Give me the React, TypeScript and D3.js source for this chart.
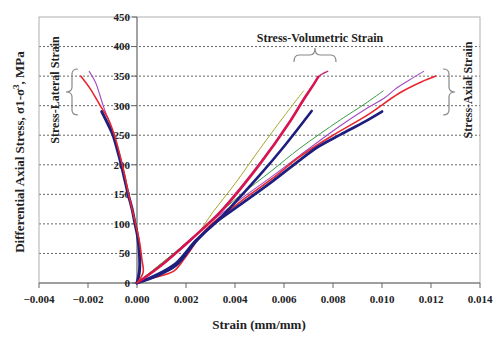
import React, { useEffect } from "react";
import * as d3 from "d3";

type Pt = [number, number];

// ---- data: [strain (mm/mm), differential stress (MPa)] ----
const xTicks = [-0.004, -0.002, 0, 0.002, 0.004, 0.006, 0.008, 0.01, 0.012, 0.014];
const yTicks = [0, 50, 100, 150, 200, 250, 300, 350, 400, 450];

// Stress - axial strain
const navyAxial: Pt[] = [[0, 0], [0.0008, 12], [0.0016, 30], [0.0024, 70], [0.0032, 102], [0.0042, 132], [0.0055, 171], [0.00665, 208], [0.0073, 228], [0.0083, 251], [0.0093, 273], [0.01, 290]];
const greenAxial: Pt[] = [[0, 0], [0.0012, 40], [0.0024, 82], [0.0032, 112], [0.0042, 148], [0.0055, 190], [0.00665, 228], [0.0083, 276], [0.0093, 303], [0.01005, 325]];
const purpleAxial: Pt[] = [[0, 0], [0.001, 30], [0.002, 64], [0.0028, 96], [0.0042, 141], [0.0055, 180], [0.00665, 216], [0.0083, 266], [0.0094, 296], [0.0101, 313], [0.0106, 330], [0.0111, 343], [0.0117, 358]];
const redAxial: Pt[] = [[0, 0], [0.0006, 8], [0.0015, 20], [0.002, 45], [0.0028, 90], [0.0042, 137], [0.0055, 176], [0.00665, 214], [0.008, 250], [0.0094, 284], [0.0107, 321], [0.0116, 340], [0.0122, 350]];

// Stress - volumetric strain
const oliveVolumetric: Pt[] = [[0, 0], [0.0012, 40], [0.0024, 80], [0.0031, 120], [0.004, 168], [0.005, 226], [0.006, 282], [0.0068, 325]];
const navyVolumetric: Pt[] = [[0, 0], [0.0008, 14], [0.0016, 34], [0.0024, 72], [0.0032, 102], [0.0037, 123], [0.005, 182], [0.006, 231], [0.00713, 291]];
const redVolumetric: Pt[] = [[0, 0], [0.001, 30], [0.002, 66], [0.0028, 96], [0.0035, 124], [0.005, 200], [0.0062, 270], [0.0068, 310], [0.0072, 335], [0.0074, 349]];
const purpleVolumetric: Pt[] = [[0, 0], [0.001, 31], [0.002, 67], [0.0028, 97], [0.0035, 126], [0.005, 202], [0.0062, 272], [0.0068, 312], [0.0072, 336], [0.0074, 348], [0.0075, 352], [0.00778, 358]];

// Stress - lateral strain
const navyLateral: Pt[] = [[0, 0], [0.0001, 20], [0.0001, 50], [0.00002, 80], [-0.00008, 100], [-0.0002, 125], [-0.00036, 150], [-0.0005, 175], [-0.00064, 200], [-0.0008, 225], [-0.00098, 250], [-0.0012, 270], [-0.00144, 290]];
const redLateral: Pt[] = [[0, 0], [0.00025, 18], [0.0002, 40], [0.0001, 70], [-0.00006, 100], [-0.00034, 150], [-0.0006, 200], [-0.00092, 250], [-0.0012, 280], [-0.0015, 300], [-0.0019, 328], [-0.0023, 350]];
const purpleLateral: Pt[] = [[0, 0], [0.0001, 30], [0.00005, 70], [-0.00007, 100], [-0.00035, 150], [-0.00062, 200], [-0.00095, 250], [-0.00138, 300], [-0.0017, 340], [-0.00195, 358]];

const seriesList = [
  { data: oliveVolumetric, color: "#a8a62a", width: 1 },
  { data: greenAxial, color: "#3a9a44", width: 1 },
  { data: purpleAxial, color: "#a24ac4", width: 1.1 },
  { data: redAxial, color: "#e8262e", width: 1.6 },
  { data: navyAxial, color: "#1e1e7e", width: 2.8 },
  { data: navyVolumetric, color: "#1e1e7e", width: 2.6 },
  { data: purpleVolumetric, color: "#c0307a", width: 1.6 },
  { data: redVolumetric, color: "#d8144e", width: 2.4 },
  { data: purpleLateral, color: "#a24ac4", width: 1.1 },
  { data: navyLateral, color: "#1e1e7e", width: 3 },
  { data: redLateral, color: "#e8262e", width: 1.6 },
];

const W = 500;
const H = 340;
const FONT = "'Liberation Serif', 'Times New Roman', serif";

function vBrace(x0: number, y1: number, y2: number, d: number) {
  const ym = (y1 + y2) / 2;
  const s = x0 + d / 2;
  const t = x0 + d;
  const r = 5;
  return `M${x0},${y1} Q${s},${y1} ${s},${y1 + r} L${s},${ym - r} Q${s},${ym} ${t},${ym} Q${s},${ym} ${s},${ym + r} L${s},${y2 - r} Q${s},${y2} ${x0},${y2}`;
}

function hBrace(x1: number, x2: number, y0: number, d: number) {
  const xm = (x1 + x2) / 2;
  const s = y0 + d / 2;
  const t = y0 + d;
  const r = 5;
  return `M${x1},${y0} Q${x1},${s} ${x1 + r},${s} L${xm - r},${s} Q${xm},${s} ${xm},${t} Q${xm},${s} ${xm + r},${s} L${x2 - r},${s} Q${x2},${s} ${x2},${y0}`;
}

export default function App() {
  useEffect(() => {
    document.body.style.margin = "0";
  }, []);

  const x = d3.scaleLinear().domain([-0.004, 0.014]).range([39, 480]);
  const y = d3.scaleLinear().domain([0, 450]).range([283, 17]);
  const line = d3
    .line<Pt>()
    .x((d) => x(d[0]))
    .y((d) => y(d[1]))
    .curve(d3.curveCatmullRom.alpha(0.5));

  const fmt = (v: number) => (Math.abs(v) < 1e-12 ? "0.000" : d3.format(".3f")(v));

  return (
    <svg width={W} height={H} style={{ display: "block", background: "#fff" }} fontFamily={FONT}>
      {yTicks.filter((t) => t > 0 && t < 450).map((t) => (
        <line key={t} x1={x(-0.004)} x2={x(0.014)} y1={y(t)} y2={y(t)} stroke="#666" strokeWidth={1} strokeDasharray="2,2" />
      ))}
      <rect x={x(-0.004)} y={y(450)} width={x(0.014) - x(-0.004)} height={y(0) - y(450)} fill="none" stroke="#b0b0b0" strokeWidth={1} />
      <line x1={x(-0.004)} x2={x(0.014)} y1={y(0)} y2={y(0)} stroke="#666" strokeWidth={1.2} />
      {xTicks.map((t) => (
        <g key={t}>
          <line x1={x(t)} x2={x(t)} y1={y(0)} y2={y(0) + 5} stroke="#666" strokeWidth={1} />
          <text x={x(t)} y={303} textAnchor="middle" fontSize={11} fontWeight="bold" fill="#222">{fmt(t)}</text>
        </g>
      ))}
      <line x1={x(0)} x2={x(0)} y1={y(0)} y2={y(450)} stroke="#666" strokeWidth={1.2} />
      {yTicks.map((t) => (
        <g key={t}>
          <line x1={x(0) - 5} x2={x(0)} y1={y(t)} y2={y(t)} stroke="#666" strokeWidth={1} />
          <text x={x(0) - 7} y={y(t)} dy="0.35em" textAnchor="end" fontSize={11} fontWeight="bold" fill="#222">{t}</text>
        </g>
      ))}
      {seriesList.map((s, i) => (
        <path key={i} d={line(s.data) || ""} fill="none" stroke={s.color} strokeWidth={s.width} strokeLinejoin="round" strokeLinecap="round" />
      ))}
      <text x={259} y={329} textAnchor="middle" fontSize={13} fontWeight="bold" fill="#222">Strain (mm/mm)</text>
      <text transform="translate(24,152) rotate(-90)" textAnchor="middle" fontSize={13} fontWeight="bold" fill="#222">
        Differential Axial Stress, σ1-σ<tspan fontSize={9} dy={-5}>3</tspan><tspan dy={5}>, MPa</tspan>
      </text>
      <text transform="translate(59,90) rotate(-90)" textAnchor="middle" fontSize={12} fontWeight="bold" fill="#222">Stress-Lateral Strain</text>
      <text x={320} y={42} textAnchor="middle" fontSize={12} fontWeight="bold" fill="#222">Stress-Volumetric Strain</text>
      <text transform="translate(472,90) rotate(-90)" textAnchor="middle" fontSize={12} fontWeight="bold" fill="#222">Stress-Axial Strain</text>
      <path d={vBrace(78, 69, 115, -12)} fill="none" stroke="#888" strokeWidth={1.2} />
      <path d={vBrace(443, 69, 115, 12)} fill="none" stroke="#888" strokeWidth={1.2} />
      <path d={hBrace(294, 336, 62, -14)} fill="none" stroke="#888" strokeWidth={1.2} />
    </svg>
  );
}
